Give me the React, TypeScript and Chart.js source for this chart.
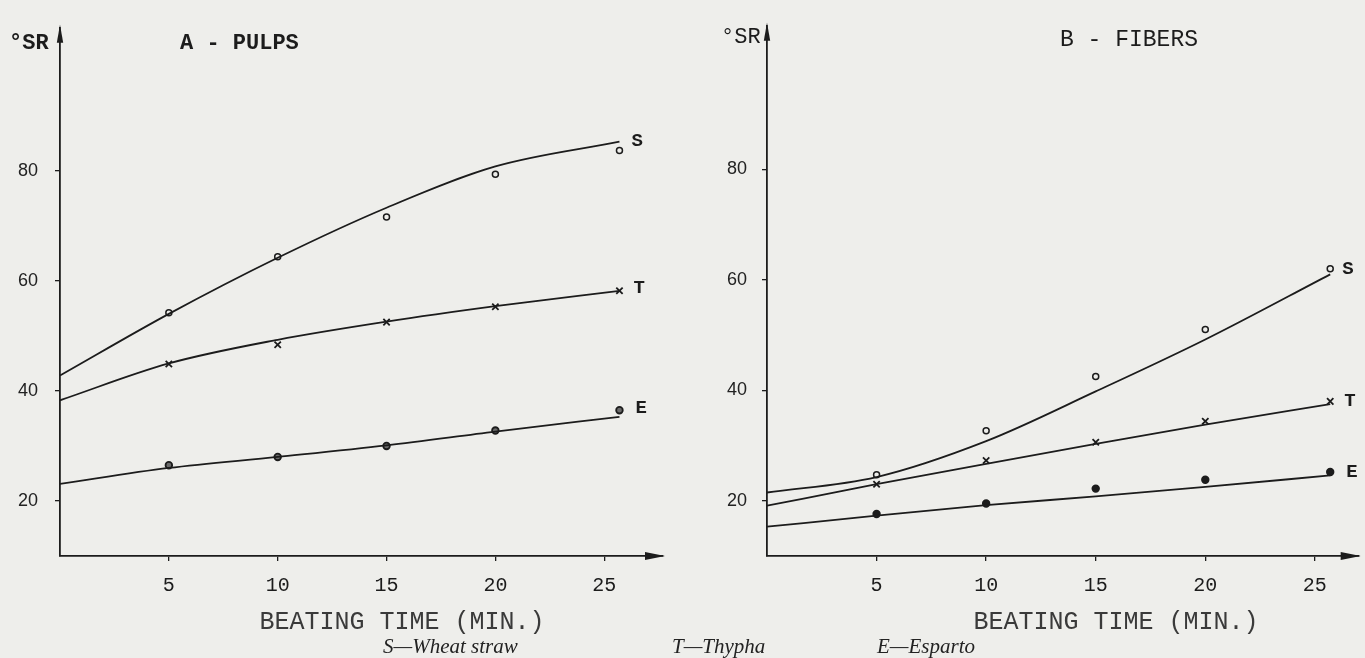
import React, { useEffect, useRef } from 'react';
import { Chart, registerables } from 'chart.js';

Chart.register(...registerables);

// ---------- data ----------
const markerX = [5, 10, 15, 20, 25.7];
const fitX = [0, 5, 10, 15, 20, 25.7];
const xTicks = [5, 10, 15, 20, 25];
const yTicks = [20, 40, 60, 80];

// A - PULPS
const pulpS = [54.2, 64.4, 71.6, 79.4, 83.7];
const pulpT = [44.9, 48.4, 52.5, 55.3, 58.2];
const pulpE = [26.5, 28.0, 30.0, 32.8, 36.5];
const pulpSFit = [42.8, 54.0, 64.2, 73.3, 80.8, 85.3];
const pulpTFit = [38.3, 45.0, 49.3, 52.6, 55.4, 58.2];
const pulpEFit = [23.1, 26.0, 28.0, 30.1, 32.6, 35.3];

// B - FIBERS
const fiberS = [24.7, 32.7, 42.5, 51.0, 62.0];
const fiberT = [23.0, 27.3, 30.6, 34.4, 38.0];
const fiberE = [17.6, 19.5, 22.2, 23.8, 25.2];
const fiberSFit = [21.5, 24.3, 30.8, 39.8, 49.2, 61.0];
const fiberTFit = [19.1, 23.0, 26.7, 30.3, 33.8, 37.5];
const fiberEFit = [15.3, 17.3, 19.2, 20.8, 22.5, 24.6];

const seriesLetters = ['S', 'T', 'E'];
const legendItems = ['S\u2014Wheat straw', 'T\u2014Thypha', 'E\u2014Esparto'];

// ---------- style ----------
const INK = '#1c1c1c';
const BG = '#eeeeeb';
const MONO = '"Liberation Mono", "DejaVu Sans Mono", monospace';
const SANS = '"Liberation Sans", Arial, sans-serif';
const AXIS_Y = 556;

const pts = (xs: number[], ys: number[]) => xs.map((x, i) => ({ x, y: ys[i] }));

const decor = {
  id: 'decor',
  afterDraw(chart: any, _args: any, o: any) {
    const { ctx, chartArea: ca, scales } = chart;
    const xs = scales.x;
    const ys = scales.y;
    ctx.save();
    ctx.fillStyle = INK;
    // y arrow
    ctx.beginPath();
    ctx.moveTo(ca.left, ca.top - 3);
    ctx.lineTo(ca.left - 3.2, ca.top + 15);
    ctx.lineTo(ca.left + 3.2, ca.top + 15);
    ctx.closePath();
    ctx.fill();
    // x arrow
    ctx.beginPath();
    ctx.moveTo(ca.right + 2, ca.bottom);
    ctx.lineTo(ca.right - 18, ca.bottom - 4);
    ctx.lineTo(ca.right - 18, ca.bottom + 4);
    ctx.closePath();
    ctx.fill();
    ctx.textBaseline = 'middle';
    for (const t of o.texts || []) {
      ctx.font = t.font;
      ctx.fillStyle = t.color || INK;
      ctx.textAlign = t.align || 'left';
      ctx.fillText(t.text, t.x, t.y);
    }
    ctx.textAlign = 'left';
    for (const l of o.labels || []) {
      ctx.font = l.font;
      ctx.fillStyle = INK;
      ctx.fillText(l.text, xs.getPixelForValue(l.x) + l.dx, ys.getPixelForValue(l.y) + (l.dy || 0));
    }
    ctx.restore();
  },
};

type PanelProps = {
  S: number[]; T: number[]; E: number[];
  SFit: number[]; TFit: number[]; EFit: number[];
  xMax: number; yAxisWidth: number; padRight: number; yLabelPad: number;
  texts: any[]; labelDx: number[]; labelDy: number[]; eFill: string;
  width: number; left: number;
};

function Panel(p: PanelProps) {
  const ref = useRef<HTMLCanvasElement>(null);
  useEffect(() => {
    const lineDs = (data: number[]) => ({
      type: 'line',
      data: pts(fitX, data),
      showLine: true,
      borderColor: INK,
      borderWidth: 1.8,
      pointRadius: 0,
      cubicInterpolationMode: 'monotone',
      fill: false,
    });
    const markDs = (data: number[], style: string, radius: number, bg: string, bw: number) => ({
      type: 'scatter',
      data: pts(markerX, data),
      showLine: false,
      pointStyle: style,
      pointRadius: radius,
      pointBackgroundColor: bg,
      pointBorderColor: INK,
      pointBorderWidth: bw,
    });
    const lastX = markerX[markerX.length - 1];
    const ends = [p.S, p.T, p.E].map((a) => a[a.length - 1]);
    const chart = new Chart(ref.current as HTMLCanvasElement, {
      type: 'scatter',
      data: {
        datasets: [
          lineDs(p.SFit), lineDs(p.TFit), lineDs(p.EFit),
          markDs(p.S, 'circle', 3, BG, 1.5),
          markDs(p.T, 'crossRot', 4.5, INK, 1.8),
          markDs(p.E, 'circle', 3.3, p.eFill, 1.8),
        ] as any,
      },
      options: {
        responsive: false,
        animation: false,
        events: [],
        layout: { padding: { top: 14, right: p.padRight, left: 0, bottom: 0 } },
        plugins: {
          legend: { display: false },
          tooltip: { enabled: false },
          decor: {
            texts: p.texts,
            labels: seriesLetters.map((s, i) => ({
              text: s, x: lastX, y: ends[i], dx: p.labelDx[i], dy: p.labelDy[i],
              font: `bold 19px ${MONO}`,
            })),
          },
        } as any,
        scales: {
          x: {
            type: 'linear',
            min: 0,
            max: p.xMax,
            afterFit: (s: any) => { s.height = 658 - AXIS_Y; },
            afterBuildTicks: (s: any) => { s.ticks = xTicks.map((v) => ({ value: v })); },
            grid: { drawOnChartArea: false, drawTicks: true, tickLength: 5, color: INK, lineWidth: 1.3 },
            border: { display: true, color: INK, width: 1.8 },
            ticks: { color: INK, font: { family: MONO, size: 20 }, padding: 13, maxRotation: 0, autoSkip: false },
          },
          y: {
            type: 'linear',
            min: 10,
            max: 106,
            afterFit: (s: any) => { s.width = p.yAxisWidth; },
            afterBuildTicks: (s: any) => { s.ticks = yTicks.map((v) => ({ value: v })); },
            grid: { drawOnChartArea: false, drawTicks: true, tickLength: 5, color: INK, lineWidth: 1.3 },
            border: { display: true, color: INK, width: 1.8 },
            ticks: { color: '#222', font: { family: SANS, size: 18 }, padding: p.yLabelPad, autoSkip: false },
          },
        },
      } as any,
      plugins: [decor as any],
    });
    return () => chart.destroy();
  }, []);
  return (
    <canvas
      ref={ref}
      width={p.width}
      height={658}
      style={{ position: 'absolute', left: p.left, top: 0, width: p.width, height: 658 }}
    />
  );
}

export default function App() {
  const legendLeft = [383, 672, 877];
  return (
    <div style={{ position: 'fixed', left: 0, top: 0, width: 1365, height: 658, background: BG, overflow: 'hidden' }}>
      <Panel
        S={pulpS} T={pulpT} E={pulpE}
        SFit={pulpSFit} TFit={pulpTFit} EFit={pulpEFit}
        xMax={27.7} yAxisWidth={60} padRight={17} yLabelPad={17}
        width={680} left={0} eFill="#6a6a6a"
        labelDx={[12, 14, 16]} labelDy={[-9, -3, -2]}
        texts={[
          { text: '\u00B0SR', x: 9, y: 43, font: `bold 22px ${MONO}` },
          { text: 'A - PULPS', x: 180, y: 43, font: `bold 22px ${MONO}` },
          { text: 'BEATING TIME (MIN.)', x: 402, y: 622, align: 'center', font: `25px ${MONO}`, color: '#3a3a3a' },
        ]}
      />
      <Panel
        S={fiberS} T={fiberT} E={fiberE}
        SFit={fiberSFit} TFit={fiberTFit} EFit={fiberEFit}
        xMax={27} yAxisWidth={87} padRight={5} yLabelPad={15}
        width={685} left={680} eFill={INK}
        labelDx={[12, 14, 16]} labelDy={[0, 0, 0]}
        texts={[
          { text: '\u00B0SR', x: 41, y: 37, font: `22px ${MONO}` },
          { text: 'B - FIBERS', x: 380, y: 40, font: `23px ${MONO}` },
          { text: 'BEATING TIME (MIN.)', x: 436, y: 622, align: 'center', font: `25px ${MONO}`, color: '#3a3a3a' },
        ]}
      />
      {legendItems.map((t, i) => (
        <span
          key={t}
          style={{
            position: 'absolute', left: legendLeft[i], top: 646, transform: 'translateY(-50%)',
            fontFamily: '"Liberation Serif", "Times New Roman", serif', fontStyle: 'italic',
            fontSize: 21, color: '#222', whiteSpace: 'nowrap', lineHeight: 1,
          }}
        >
          {t}
        </span>
      ))}
    </div>
  );
}
